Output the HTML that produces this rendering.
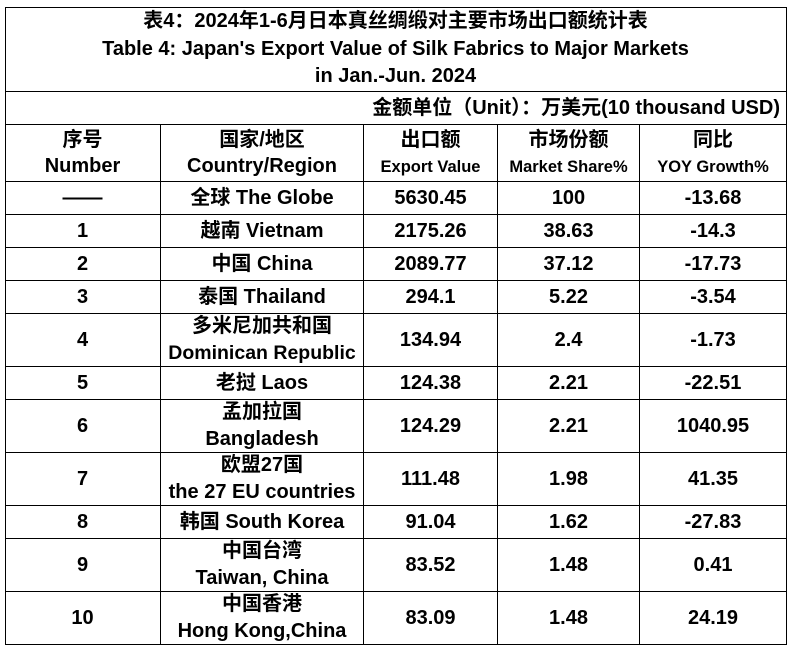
<!DOCTYPE html>
<html>
<head>
<meta charset="utf-8">
<style>
  html, body { margin:0; padding:0; background:#fff; }
  body { width:791px; height:650px; position:relative; overflow:hidden;
         font-family:"Liberation Sans","Noto Sans CJK SC",sans-serif; font-weight:bold; color:#000; }
  .h { position:absolute; height:1px; background:#000; }
  .v { position:absolute; width:1px; background:#000; }
  .c { position:absolute; display:flex; align-items:center; justify-content:center; text-align:center;
       font-size:20px; line-height:27px; white-space:nowrap; }
  .c > div { display:block; }
  .s { font-size:16.5px; }
</style>
</head>
<body>
<!-- horizontal lines -->
<div class="h" style="left:5px;width:782px;top:7px"></div>
<div class="h" style="left:5px;width:782px;top:91px"></div>
<div class="h" style="left:5px;width:782px;top:124px"></div>
<div class="h" style="left:5px;width:782px;top:181px"></div>
<div class="h" style="left:5px;width:782px;top:214px"></div>
<div class="h" style="left:5px;width:782px;top:247px"></div>
<div class="h" style="left:5px;width:782px;top:280px"></div>
<div class="h" style="left:5px;width:782px;top:313px"></div>
<div class="h" style="left:5px;width:782px;top:366px"></div>
<div class="h" style="left:5px;width:782px;top:399px"></div>
<div class="h" style="left:5px;width:782px;top:452px"></div>
<div class="h" style="left:5px;width:782px;top:505px"></div>
<div class="h" style="left:5px;width:782px;top:538px"></div>
<div class="h" style="left:5px;width:782px;top:591px"></div>
<div class="h" style="left:5px;width:782px;top:644px"></div>
<!-- vertical lines -->
<div class="v" style="left:5px;top:7px;height:638px"></div>
<div class="v" style="left:786px;top:7px;height:638px"></div>
<div class="v" style="left:160px;top:124px;height:521px"></div>
<div class="v" style="left:363px;top:124px;height:521px"></div>
<div class="v" style="left:497px;top:124px;height:521px"></div>
<div class="v" style="left:639px;top:124px;height:521px"></div>

<!-- title -->
<div class="c" style="left:5px;top:8px;width:781px;height:83px;line-height:27.5px;"><div>表4：2024年1-6月日本真丝绸缎对主要市场出口额统计表<br>Table 4: Japan's Export Value of Silk Fabrics to Major Markets<br>in Jan.-Jun. 2024</div></div>
<!-- unit -->
<div class="c" style="left:5px;top:92px;width:775px;height:32px;justify-content:flex-end;font-size:20px;"><div>金额单位（Unit）：万美元(10 thousand USD)</div></div>

<!-- header -->
<div class="c" style="left:5px;top:125px;width:155px;height:56px;line-height:26px;"><div>序号<br>Number</div></div>
<div class="c" style="left:161px;top:125px;width:202px;height:56px;line-height:26px;"><div>国家/地区<br>Country/Region</div></div>
<div class="c" style="left:364px;top:125px;width:133px;height:56px;line-height:26px;"><div>出口额<br><span class="s">Export Value</span></div></div>
<div class="c" style="left:498px;top:125px;width:141px;height:56px;line-height:26px;"><div>市场份额<br><span class="s">Market Share%</span></div></div>
<div class="c" style="left:640px;top:125px;width:146px;height:56px;line-height:26px;"><div>同比<br><span class="s">YOY Growth%</span></div></div>

<!-- row globe 181-214 -->
<div class="c" style="left:5px;top:182px;width:155px;height:32px;"><div>——</div></div>
<div class="c" style="left:161px;top:182px;width:202px;height:32px;"><div>全球 The Globe</div></div>
<div class="c" style="left:364px;top:182px;width:133px;height:32px;"><div>5630.45</div></div>
<div class="c" style="left:498px;top:182px;width:141px;height:32px;"><div>100</div></div>
<div class="c" style="left:640px;top:182px;width:146px;height:32px;"><div>-13.68</div></div>

<!-- row 1 214-247 -->
<div class="c" style="left:5px;top:215px;width:155px;height:32px;"><div>1</div></div>
<div class="c" style="left:161px;top:215px;width:202px;height:32px;"><div>越南 Vietnam</div></div>
<div class="c" style="left:364px;top:215px;width:133px;height:32px;"><div>2175.26</div></div>
<div class="c" style="left:498px;top:215px;width:141px;height:32px;"><div>38.63</div></div>
<div class="c" style="left:640px;top:215px;width:146px;height:32px;"><div>-14.3</div></div>

<!-- row 2 247-280 -->
<div class="c" style="left:5px;top:248px;width:155px;height:32px;"><div>2</div></div>
<div class="c" style="left:161px;top:248px;width:202px;height:32px;"><div>中国 China</div></div>
<div class="c" style="left:364px;top:248px;width:133px;height:32px;"><div>2089.77</div></div>
<div class="c" style="left:498px;top:248px;width:141px;height:32px;"><div>37.12</div></div>
<div class="c" style="left:640px;top:248px;width:146px;height:32px;"><div>-17.73</div></div>

<!-- row 3 280-313 -->
<div class="c" style="left:5px;top:281px;width:155px;height:32px;"><div>3</div></div>
<div class="c" style="left:161px;top:281px;width:202px;height:32px;"><div>泰国 Thailand</div></div>
<div class="c" style="left:364px;top:281px;width:133px;height:32px;"><div>294.1</div></div>
<div class="c" style="left:498px;top:281px;width:141px;height:32px;"><div>5.22</div></div>
<div class="c" style="left:640px;top:281px;width:146px;height:32px;"><div>-3.54</div></div>

<!-- row 4 313-366 -->
<div class="c" style="left:5px;top:314px;width:155px;height:52px;"><div>4</div></div>
<div class="c" style="left:161px;top:314px;width:202px;height:52px;"><div>多米尼加共和国<br><span style="font-size:19.5px">Dominican Republic</span></div></div>
<div class="c" style="left:364px;top:314px;width:133px;height:52px;"><div>134.94</div></div>
<div class="c" style="left:498px;top:314px;width:141px;height:52px;"><div>2.4</div></div>
<div class="c" style="left:640px;top:314px;width:146px;height:52px;"><div>-1.73</div></div>

<!-- row 5 366-399 -->
<div class="c" style="left:5px;top:367px;width:155px;height:32px;"><div>5</div></div>
<div class="c" style="left:161px;top:367px;width:202px;height:32px;"><div>老挝 Laos</div></div>
<div class="c" style="left:364px;top:367px;width:133px;height:32px;"><div>124.38</div></div>
<div class="c" style="left:498px;top:367px;width:141px;height:32px;"><div>2.21</div></div>
<div class="c" style="left:640px;top:367px;width:146px;height:32px;"><div>-22.51</div></div>

<!-- row 6 399-452 -->
<div class="c" style="left:5px;top:400px;width:155px;height:52px;"><div>6</div></div>
<div class="c" style="left:161px;top:400px;width:202px;height:52px;"><div>孟加拉国<br>Bangladesh</div></div>
<div class="c" style="left:364px;top:400px;width:133px;height:52px;"><div>124.29</div></div>
<div class="c" style="left:498px;top:400px;width:141px;height:52px;"><div>2.21</div></div>
<div class="c" style="left:640px;top:400px;width:146px;height:52px;"><div>1040.95</div></div>

<!-- row 7 452-505 -->
<div class="c" style="left:5px;top:453px;width:155px;height:52px;"><div>7</div></div>
<div class="c" style="left:161px;top:453px;width:202px;height:52px;"><div>欧盟27国<br>the 27 EU countries</div></div>
<div class="c" style="left:364px;top:453px;width:133px;height:52px;"><div>111.48</div></div>
<div class="c" style="left:498px;top:453px;width:141px;height:52px;"><div>1.98</div></div>
<div class="c" style="left:640px;top:453px;width:146px;height:52px;"><div>41.35</div></div>

<!-- row 8 505-538 -->
<div class="c" style="left:5px;top:506px;width:155px;height:32px;"><div>8</div></div>
<div class="c" style="left:161px;top:506px;width:202px;height:32px;"><div>韩国 South Korea</div></div>
<div class="c" style="left:364px;top:506px;width:133px;height:32px;"><div>91.04</div></div>
<div class="c" style="left:498px;top:506px;width:141px;height:32px;"><div>1.62</div></div>
<div class="c" style="left:640px;top:506px;width:146px;height:32px;"><div>-27.83</div></div>

<!-- row 9 538-591 -->
<div class="c" style="left:5px;top:539px;width:155px;height:52px;"><div>9</div></div>
<div class="c" style="left:161px;top:539px;width:202px;height:52px;"><div>中国台湾<br>Taiwan, China</div></div>
<div class="c" style="left:364px;top:539px;width:133px;height:52px;"><div>83.52</div></div>
<div class="c" style="left:498px;top:539px;width:141px;height:52px;"><div>1.48</div></div>
<div class="c" style="left:640px;top:539px;width:146px;height:52px;"><div>0.41</div></div>

<!-- row 10 591-644 -->
<div class="c" style="left:5px;top:592px;width:155px;height:52px;"><div>10</div></div>
<div class="c" style="left:161px;top:592px;width:202px;height:52px;"><div>中国香港<br>Hong Kong,China</div></div>
<div class="c" style="left:364px;top:592px;width:133px;height:52px;"><div>83.09</div></div>
<div class="c" style="left:498px;top:592px;width:141px;height:52px;"><div>1.48</div></div>
<div class="c" style="left:640px;top:592px;width:146px;height:52px;"><div>24.19</div></div>
</body>
</html>
